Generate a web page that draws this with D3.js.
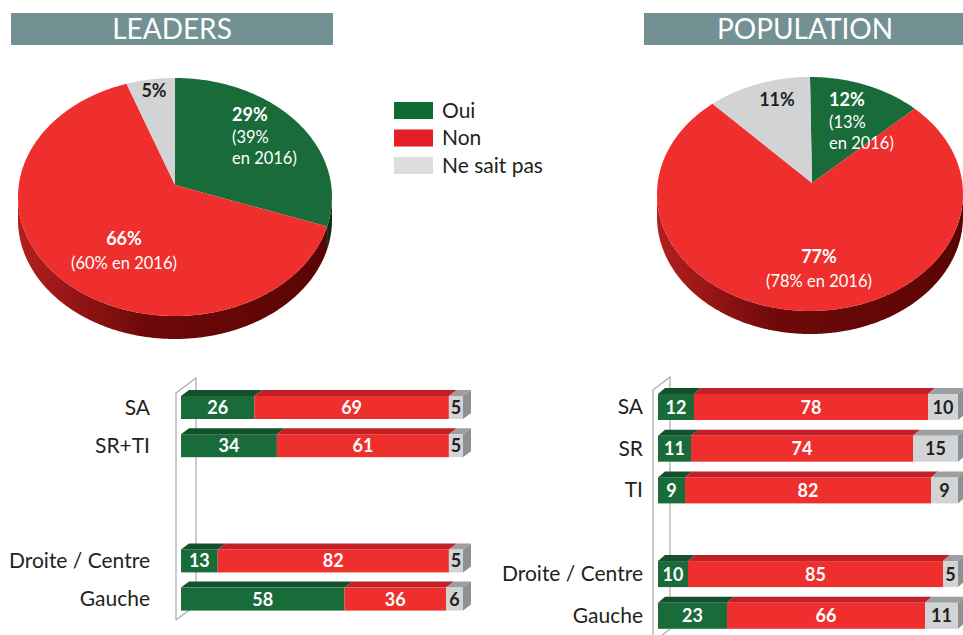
<!DOCTYPE html>
<html>
<head>
<meta charset="utf-8">
<script src="https://cdn.jsdelivr.net/npm/d3@7"></script>
<style>
  body { margin: 0; background: #fff; }
  svg { display: block; font-family: Lato, "Open Sans", sans-serif; }
</style>
</head>
<body>
<svg id="chart" width="963" height="635"></svg>
<script>

var pieCategories = ["Oui", "Non", "Ne sait pas"];
var leadersPie = [29, 66, 5];
var leadersPie2016 = [39, 60, null];
var populationPie = [12, 77, 11];
var populationPie2016 = [13, 78, null];

var leadersGroups = [["SA", "SR+TI"], ["Droite / Centre", "Gauche"]];
var leadersOui = [26, 34, 13, 58];
var leadersNon = [69, 61, 82, 36];
var leadersNsp = [5, 5, 5, 6];

var populationGroups = [["SA", "SR", "TI"], ["Droite / Centre", "Gauche"]];
var populationOui = [12, 11, 9, 10, 23];
var populationNon = [78, 74, 82, 85, 66];
var populationNsp = [10, 15, 9, 5, 11];

var titles = ["LEADERS", "POPULATION"];

/********************************************************************
* colours
*********************************************************************/
var front = ["#1a6b3a", "#ee2f2d", "#d1d3d4"];
var topFace = ["#14502c", "#c31f27", "#9c9ea0"];
var legendFill = ["#0f6a2f", "#e31e25", "#dcdddd"];
var labelInk = ["#fff", "#fff", "#231f20"];

var svg = d3.select("#chart");
var defs = svg.append("defs");

/********************************************************************
* title bars
*********************************************************************/
var titleBars = [{x: 11, w: 322, cx: 172}, {x: 644, w: 330, cx: 805}];
titleBars.forEach(function(t, i){
	svg.append("rect")
		.attr("x", t.x).attr("y", 13)
		.attr("width", t.w).attr("height", 32)
		.attr("fill", "#739192");
	svg.append("text")
		.attr("x", t.cx).attr("y", 39)
		.attr("text-anchor", "middle")
		.attr("fill", "#fff")
		.attr("font-size", 28)
		.text(titles[i]);
});

/********************************************************************
* 3D pies
*********************************************************************/
function drawPie(values, old, p, id){
	var arcs = d3.pie().sort(null)(values);
	var line = d3.line();
	var g = svg.append("g");

	function pt(a, off){
		return [p.cx + p.rx * Math.sin(a), p.cy - p.ry * Math.cos(a) + (off || 0)];
	}
	function run(a0, a1, off){
		var n = Math.max(2, Math.ceil((a1 - a0) / 0.01));
		return d3.range(n + 1).map(function(k){ return pt(a0 + (a1 - a0) * k / n, off); });
	}

	var sideStops = [
		["#1f5a33", "#0f3a20", "#0b2e18"],
		["#b41f1f", "#6e0909", "#5a0404"],
		["#a6a7a9", "#7d7e80", "#6d6e70"]
	];
	sideStops.forEach(function(s, i){
		var lg = defs.append("linearGradient")
			.attr("id", id + "side" + i)
			.attr("gradientUnits", "userSpaceOnUse")
			.attr("x1", p.cx - p.rx).attr("x2", p.cx + p.rx)
			.attr("y1", 0).attr("y2", 0);
		lg.append("stop").attr("offset", 0).attr("stop-color", s[0]);
		lg.append("stop").attr("offset", 0.4).attr("stop-color", s[1]);
		lg.append("stop").attr("offset", 1).attr("stop-color", s[2]);
	});

	// side walls, only the front half shows
	arcs.forEach(function(d, i){
		var s = Math.max(d.startAngle, Math.PI / 2);
		var e = Math.min(d.endAngle, Math.PI * 1.5);
		if (s >= e) return;
		var pts = run(s, e, 0).concat(run(s, e, p.depth).reverse());
		g.append("path")
			.attr("d", line(pts) + "Z")
			.attr("fill", "url(#" + id + "side" + i + ")");
	});

	// top faces
	arcs.forEach(function(d, i){
		var pts = [[p.vx, p.vy]].concat(run(d.startAngle, d.endAngle, 0));
		g.append("path")
			.attr("d", line(pts) + "Z")
			.attr("fill", front[i]);
	});

	// labels
	p.labels.forEach(function(l, i){
		var lines = [values[i] + "%"];
		if (old[i] != null) lines = lines.concat(l.split ? ["(" + old[i] + "%", "en 2016)"] : ["(" + old[i] + "% en 2016)"]);
		var t = g.append("text")
			.attr("x", l.x).attr("y", l.y)
			.attr("text-anchor", l.anchor)
			.attr("fill", labelInk[i]);
		lines.forEach(function(s, k){
			t.append("tspan")
				.attr("x", l.x)
				.attr("dy", k == 0 ? 0 : (l.split ? 21.5 : 24))
				.attr("font-weight", k == 0 ? 700 : 400)
				.attr("font-size", k == 0 ? 18 : 16.5)
				.text(s);
		});
	});
}

drawPie(leadersPie, leadersPie2016, {
	cx: 175, cy: 197, rx: 157, ry: 119, vx: 175, vy: 185, depth: 23,
	labels: [
		{x: 232, y: 121, anchor: "start", split: true},
		{x: 124, y: 245, anchor: "middle"},
		{x: 154, y: 97, anchor: "middle"}
	]
}, "lp");

drawPie(populationPie, populationPie2016, {
	cx: 810, cy: 194, rx: 153, ry: 117, vx: 812, vy: 183, depth: 23,
	labels: [
		{x: 829, y: 106, anchor: "start", split: true},
		{x: 819, y: 263, anchor: "middle"},
		{x: 777, y: 106, anchor: "middle"}
	]
}, "pp");

/********************************************************************
* legend
*********************************************************************/
var legend = svg.append("g").attr("transform", "translate(394,102)");
legend.selectAll("rect")
	.data(pieCategories)
	.enter()
	.append("rect")
	.attr("x", 0)
	.attr("y", function(d, i){ return i * 27.5; })
	.attr("width", 39).attr("height", 17)
	.attr("fill", function(d, i){ return legendFill[i]; });
legend.selectAll("text")
	.data(pieCategories)
	.enter()
	.append("text")
	.attr("x", 48)
	.attr("y", function(d, i){ return i * 27.5 + 15.5; })
	.attr("font-size", 21)
	.attr("fill", "#231f20")
	.text(function(d){ return d; });

/********************************************************************
* 3D stacked bars
*********************************************************************/
function drawBars(groups, oui, non, nsp, p){
	var g = svg.append("g");
	var x = d3.scaleLinear().domain([0, 100]).range([p.x0, p.x0 + p.w]);

	var rows = [];
	groups.forEach(function(grp, gi){
		grp.forEach(function(name){ rows.push({name: name, group: gi}); });
	});
	rows.forEach(function(r, i){
		r.y = p.y0 + i * p.step + r.group * p.gap;
		r.vals = [oui[i], non[i], nsp[i]];
	});

	// back wall
	var w = p.wall;
	g.append("path")
		.attr("d", d3.line()([[w.x0, w.b0], [w.x0, w.t0], [w.x1, w.t1], [w.x1, w.b1], [w.x0, w.b0]]))
		.attr("fill", "none")
		.attr("stroke", "#a7a9ac")
		.attr("stroke-width", 1.2);

	var stack = d3.stack().keys([0, 1, 2])(rows.map(function(r){ return r.vals; }));

	rows.forEach(function(r, i){
		var row = g.append("g");
		stack.forEach(function(layer, k){
			var a = x(layer[i][0]), b = x(layer[i][1]);
			row.append("path")
				.attr("d", d3.line()([[a, r.y], [b, r.y], [b + p.dx, r.y + p.dy], [a + p.dx, r.y + p.dy]]) + "Z")
				.attr("fill", topFace[k]);
			row.append("rect")
				.attr("x", a).attr("y", r.y)
				.attr("width", b - a).attr("height", p.h)
				.attr("fill", front[k]);
			if (k == 2) {
				row.append("path")
					.attr("d", d3.line()([[b, r.y], [b + p.dx, r.y + p.dy], [b + p.dx, r.y + p.h + p.dy], [b, r.y + p.h]]) + "Z")
					.attr("fill", "#8e9092");
			}
			row.append("text")
				.attr("x", (a + b) / 2)
				.attr("y", r.y + p.h / 2 + 6.5)
				.attr("text-anchor", "middle")
				.attr("font-size", 18)
				.attr("font-weight", 700)
				.attr("fill", labelInk[k])
				.text(r.vals[k]);
		});
		g.append("text")
			.attr("x", p.labelX)
			.attr("y", r.y + p.h / 2 + 7)
			.attr("text-anchor", "end")
			.attr("font-size", 21)
			.attr("fill", "#231f20")
			.text(r.name);
	});
}

drawBars(leadersGroups, leadersOui, leadersNon, leadersNsp, {
	x0: 181, w: 282, y0: 396, step: 38.2, gap: 77, h: 23, dx: 8, dy: -6, labelX: 150,
	wall: {x0: 176, x1: 196, t0: 393, t1: 378, b0: 620, b1: 605}
});

drawBars(populationGroups, populationOui, populationNon, populationNsp, {
	x0: 658, w: 300, y0: 394, step: 41.7, gap: 42, h: 26, dx: 7, dy: -6, labelX: 643,
	wall: {x0: 653, x1: 670, t0: 390, t1: 377, b0: 642, b1: 629}
});

</script>
</body>
</html>
